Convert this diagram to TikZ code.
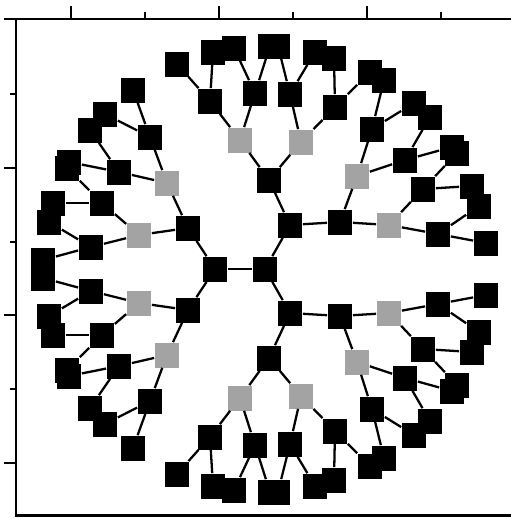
\documentclass[tikz,border=0pt]{standalone}
\usepackage{tikz}
\definecolor{boxgray}{rgb}{0.64,0.64,0.64}

\tikzset{
  sq/.style={fill=black, inner sep=0pt, minimum size=0.5cm},
  gsq/.style={sq, fill=boxgray},
  link/.style={line width=1.3pt}
}

\begin{document}
\begin{tikzpicture}[x=0.02cm, y=-0.02cm]
    \useasboundingbox (0,0) rectangle (511,518);

    % frame
    \draw[line width=1.7pt] (16,19) -- (511,19);
    \draw[line width=1.7pt] (16,19) -- (16,515.5) -- (511,515.5);

    \foreach \x in {71,219,367}  {   % for x-axis
      \draw[line width=1.1pt] (\x,19) -- (\x,6);
    }
    \foreach \x in {145,293,441}  {
      \draw[line width=1.1pt] (\x,19) -- (\x,12);
    }
    \foreach \y in {19,168,315,463}  {   % for y-axis
      \draw[line width=1.1pt] (16,\y) -- (4,\y);
    }
    \foreach \y in {94,242,389}  {
      \draw[line width=1.1pt] (16,\y) -- (10,\y);
    }

    % roots
    \node[sq, alias=bl] (tl) at (215,269) {};
    \node[sq, alias=br] (tr) at (265,269) {};
    \draw[link] (tl) -- (tr);

    % t = upper half, b = lower half (mirrored at y=269)
    \foreach \s/\m in {t/1, b/-1}  {
      \foreach \n/\up/\x/\y in {p/l/188/228, a/r/290/225, b1/a/269/180, b2/a/340/222}  {
        \node[sq] (\s\n) at (\x,{269+(\m)*(\y-269)}) {};
        \draw[link] (\s\up) -- (\s\n);
      }
      \foreach \n/\up/\x/\y in {g1/p/167/183, g2/p/139/235, g3/b1/240/140,
                                g4/b1/301/142, g5/b2/357/176, g6/b2/389/225}  {
        \node[gsq] (\s\n) at (\x,{269+(\m)*(\y-269)}) {};
        \draw[link] (\s\up) -- (\s\n);
      }
      \foreach \n/\up/\x/\y in {m1/g1/150/137, m2/g1/119/172, m3/g2/102/203,
                                m4/g2/91/247, m5/g3/210/101, m6/g3/255/93,
                                m7/g4/290/94, m8/g4/335/107, m9/g5/372/129,
                                m10/g5/405/160, m11/g6/423/189, m12/g6/438/234}  {
        \node[sq] (\s\n) at (\x,{269+(\m)*(\y-269)}) {};
        \draw[link] (\s\up) -- (\s\n);
      }
      % leaves
      \foreach \n/\up/\x/\y in {m1a/m1/133/90, m1b/m1/105/114,
                                m2a/m2/90/130, m2b/m2/69/162,
                                m3a/m3/67/168, m3b/m3/53/203,
                                m4a/m4/49/222, m4b/m4/43/260,
                                m5a/m5/177/64, m5b/m5/213/52,
                                m6a/m6/234/48, m6b/m6/270/46,
                                m7a/m7/278/46, m7b/m7/315/52,
                                m8a/m8/334/58, m8b/m8/370/72,
                                m9a/m9/384/80, m9b/m9/414/103,
                                m10a/m10/430/117, m10b/m10/452/147,
                                m11a/m11/457/153, m11b/m11/472/186,
                                m12a/m12/479/206, m12b/m12/486/243}  {
        \node[sq] (\s\n) at (\x,{269+(\m)*(\y-269)}) {};
        \draw[link] (\s\up) -- (\s\n);
      }
    }

\end{tikzpicture}
\end{document}
